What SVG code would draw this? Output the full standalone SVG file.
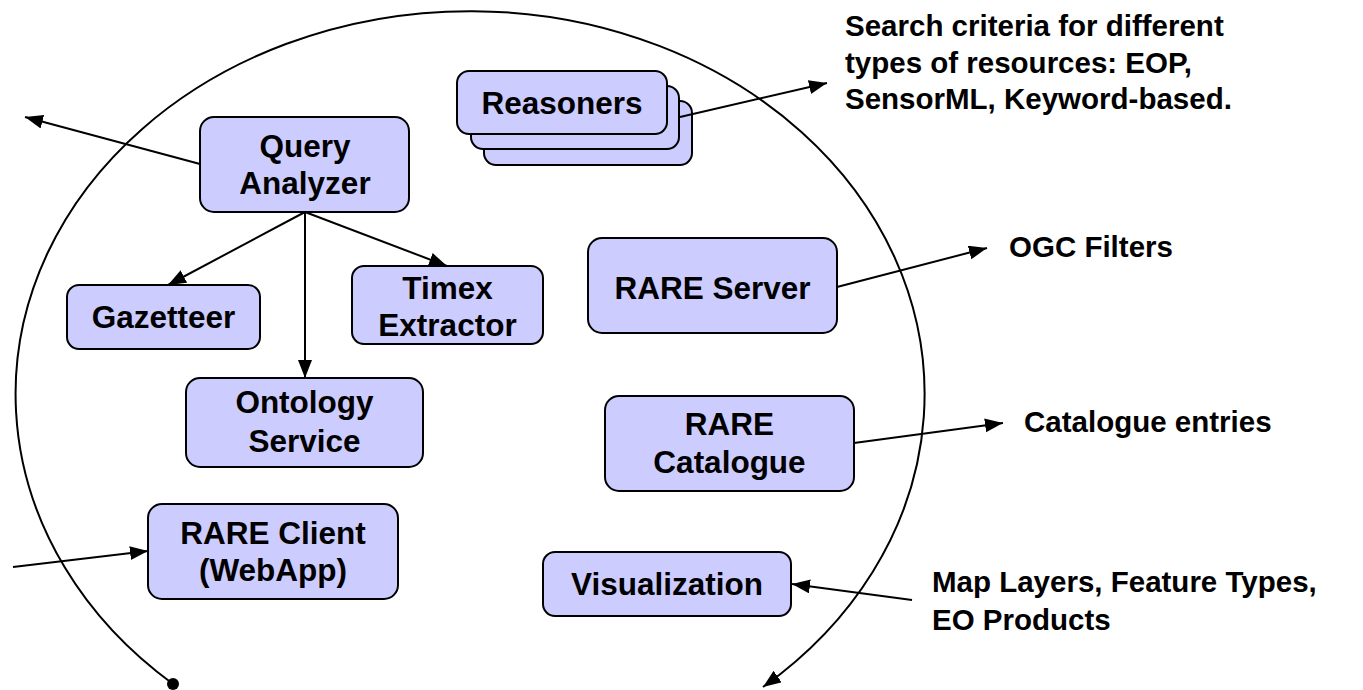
<svg xmlns="http://www.w3.org/2000/svg" width="1363" height="690" viewBox="0 0 1363 690">
<style>
.box{fill:#ccccff;stroke:#000;stroke-width:2}
.t{font-family:"Liberation Sans",Arial,sans-serif;font-weight:bold;font-size:29.5px;fill:#000}
.c{text-anchor:middle;font-size:31.5px}
.ln{stroke:#000;stroke-width:2;fill:none}
</style>
<defs>
<marker id="ah" markerUnits="userSpaceOnUse" markerWidth="20" markerHeight="16" refX="18" refY="7" orient="auto">
<path d="M0,0 L18,7 L0,14 z" fill="#000"/>
</marker>
</defs>
<rect width="1363" height="690" fill="#fff"/>
<g id="boundary">
<path class="ln" d="M173,684 A454.5,383 0 1 1 763,687" marker-end="url(#ah)"/>
<circle cx="173" cy="684" r="6" fill="#000"/>
</g>
<g id="reasoners">
<rect class="box" x="484" y="101" width="208" height="64" rx="12"/>
<rect class="box" x="471" y="86" width="208" height="63" rx="12"/>
<rect class="box" x="457" y="71" width="210" height="63" rx="12"/>
<text class="t c" x="562" y="114">Reasoners</text>
</g>
<g id="query-analyzer">
<rect class="box" x="200" y="117" width="209" height="95" rx="14"/>
<text class="t c" x="305" y="157">Query</text>
<text class="t c" x="305" y="194">Analyzer</text>
</g>
<g id="gazetteer">
<rect class="box" x="67" y="285" width="193" height="64" rx="12"/>
<text class="t c" x="163.5" y="328">Gazetteer</text>
</g>
<g id="timex">
<rect class="box" x="352" y="266" width="191" height="78" rx="12"/>
<text class="t c" x="447.5" y="299">Timex</text>
<text class="t c" x="447.5" y="336">Extractor</text>
</g>
<g id="ontology">
<rect class="box" x="186" y="378" width="237" height="89" rx="14"/>
<text class="t c" x="304.5" y="413">Ontology</text>
<text class="t c" x="304.5" y="452">Service</text>
</g>
<g id="rare-client">
<rect class="box" x="148" y="504" width="250" height="95" rx="14"/>
<text class="t c" x="273" y="544">RARE Client</text>
<text class="t c" x="273" y="581">(WebApp)</text>
</g>
<g id="rare-server">
<rect class="box" x="588" y="238" width="249" height="95" rx="14"/>
<text class="t c" x="712.5" y="299">RARE Server</text>
</g>
<g id="rare-catalogue">
<rect class="box" x="605" y="396" width="249" height="95" rx="14"/>
<text class="t c" x="729.5" y="435">RARE</text>
<text class="t c" x="729.5" y="473">Catalogue</text>
</g>
<g id="visualization">
<rect class="box" x="543" y="552" width="248" height="64" rx="12"/>
<text class="t c" x="667" y="595">Visualization</text>
</g>
<g id="labels">
<text class="t" x="845" y="36">Search criteria for different</text>
<text class="t" x="845" y="73">types of resources: EOP,</text>
<text class="t" x="845" y="109">SensorML, Keyword-based.</text>
<text class="t" x="1009" y="257">OGC Filters</text>
<text class="t" x="1024" y="432">Catalogue entries</text>
<text class="t" x="932" y="592">Map Layers, Feature Types,</text>
<text class="t" x="932" y="630">EO Products</text>
</g>
<g id="connectors">
<line class="ln" x1="200" y1="164" x2="25" y2="117" marker-end="url(#ah)"/>
<line class="ln" x1="305" y1="212" x2="168" y2="285" marker-end="url(#ah)"/>
<line class="ln" x1="305" y1="212" x2="447" y2="266" marker-end="url(#ah)"/>
<line class="ln" x1="305" y1="212" x2="305" y2="378" marker-end="url(#ah)"/>
<line class="ln" x1="680" y1="117" x2="827" y2="83" marker-end="url(#ah)"/>
<line class="ln" x1="837" y1="287" x2="987" y2="248" marker-end="url(#ah)"/>
<line class="ln" x1="854" y1="443" x2="1003" y2="423" marker-end="url(#ah)"/>
<line class="ln" x1="912" y1="600" x2="792" y2="584" marker-end="url(#ah)"/>
<line class="ln" x1="13" y1="567" x2="148" y2="551" marker-end="url(#ah)"/>
</g>
</svg>
